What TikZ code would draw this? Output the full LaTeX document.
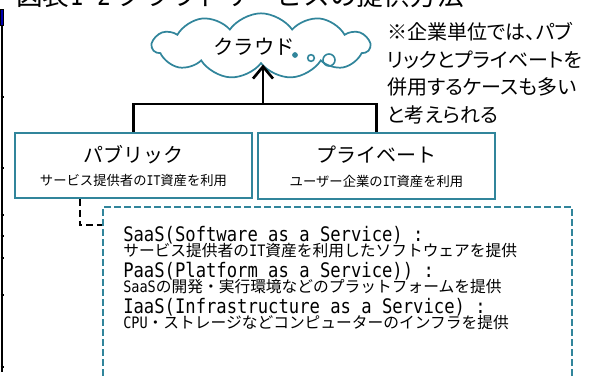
\documentclass[tikz,border=0pt]{standalone}
\usepackage{fontspec}
\setmainfont{Noto Sans CJK JP}
\newfontfamily\prop{Noto Sans CJK JP}[RawFeature=+palt]
\newfontfamily\lat{DejaVu Sans Mono}[FakeStretch=0.86]
\usetikzlibrary{shapes.symbols,arrows.meta,positioning}
\definecolor{sea}{RGB}{49,133,155}

\begin{document}
\begin{tikzpicture}[x=0.75pt, y=-0.75pt, >={Straight Barb[length=9pt,width=15pt]}]
	\tikzstyle{kind} = [draw=sea, line width=1.5pt, minimum width=177.75pt, minimum height=49pt, inner sep=0pt]
	\tikzstyle{big} = [font=\fontsize{15}{18}\selectfont, inner sep=0pt]
	\tikzstyle{small} = [font=\fontsize{10}{12}\selectfont, inner sep=0pt]
	\tikzstyle{item} = [font=\lat\fontsize{15}{18}\selectfont, inner sep=0pt, anchor=base west]
	\tikzstyle{desc} = [font=\fontsize{11.8}{14}\selectfont, inner sep=0pt, anchor=base west]
	\tikzstyle{bubble} = [circle, draw=sea, line width=1.2pt, inner sep=0pt]
	\tikzstyle{link} = [line width=2pt]
	\tikzstyle{dashlink} = [line width=1.8pt, dash pattern=on 5pt off 3pt]

	\useasboundingbox (0,0) rectangle (598,376);
	\clip (0,0) rectangle (598,376);

	\draw[line width=1pt] (2,9) -- (2,372);
	\foreach \y in {97,168,215,236,258,295,367}
		\draw[line width=0.8pt] (0.5,\y) -- (4,\y);
	\filldraw[fill=blue!70!black, line width=0.5pt] (0,9) rectangle (3,25);

	\node[anchor=base west, inner sep=0pt, font=\fontsize{20}{24}\selectfont] (title) at (16,5) {図表{\lat 1-2} クラウドサービスの提供方法};

	\node[cloud, cloud puffs=11, cloud puff arc=110, aspect=3.5, draw=sea, line width=1.3pt, minimum width=163pt, minimum height=49pt, inner sep=0pt] (cloud) at (261,46) {};
	\node[font=\fontsize{15.3}{17}\selectfont, inner sep=0pt] (cloudtext) at (254,47) {クラウド};
	\node[bubble, fill=sea, minimum size=3pt] (b1) at (295,55) {};
	\node[bubble, minimum size=5pt] (b2) at (311,58) {};
	\node[bubble, minimum size=9pt] (b3) at (329,60) {};

	\node[anchor=north west, align=left, inner sep=0pt, font=\prop\fontsize{15}{20.8}\selectfont] (remark) at (387,22) {※企業単位では、パブ\\リックとプライベートを\\併用するケースも多い\\と考えられる};

	\node[kind] (pub) at (133.5,165.5) {};
	\node[big] (pubname) at (133.5,155) {パブリック};
	\node[small] (pubsub) at (133.5,180.5) {サービス提供者の{\lat IT}資産を利用};

	\node[kind] (priv) at (376.5,166) {};
	\node[big] (privname) at (376.5,155) {プライベート};
	\node[small] (privsub) at (376.5,181) {ユーザー企業の{\lat IT}資産を利用};

	\coordinate (hub) at (263,104);
	\draw[link] (pub.north) |- (hub) -| (priv.north);
	\draw[link, ->] (hub) -- (hub |- cloud.south);

	\node[draw=sea, line width=1.1pt, dash pattern=on 5pt off 2.5pt, minimum width=351.75pt, minimum height=150pt] (svc) at (337.5,307) {};
	\coordinate (bend) at (80,225);
	\draw[dashlink] (pub.south -| bend) |- (svc.west |- bend);

	\node[item] (saas) at (123,241) {SaaS(Software as a Service) :};
	\node[desc] (saasd) at (123,256) {サービス提供者の{\lat IT}資産を利用したソフトウェアを提供};
	\node[item] (paas) at (123,277) {PaaS(Platform as a Service)) :};
	\node[desc] (paasd) at (123,292) {{\lat SaaS}の開発・実行環境などのプラットフォームを提供};
	\node[item] (iaas) at (123,313) {IaaS(Infrastructure as a Service) :};
	\node[desc] (iaasd) at (123,328) {{\lat CPU}・ストレージなどコンピューターのインフラを提供};
\end{tikzpicture}
\end{document}
